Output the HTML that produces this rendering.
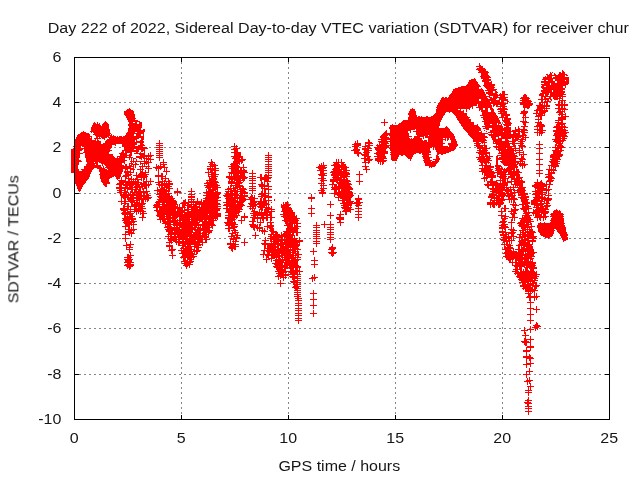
<!DOCTYPE html>
<html><head><meta charset="utf-8"><title>SDTVAR</title>
<style>
html,body{margin:0;padding:0;background:#fff;overflow:hidden}
svg{display:block}
text{font-family:"Liberation Sans",sans-serif;font-size:16px;fill:#000}
</style></head><body>
<svg width="640" height="480" viewBox="0 0 640 480">
<rect width="640" height="480" fill="#fff"/>
<g stroke="#868686" stroke-width="1" stroke-dasharray="2 3" shape-rendering="crispEdges">
<line x1="181.5" y1="57" x2="181.5" y2="419"/>
<line x1="288.5" y1="57" x2="288.5" y2="419"/>
<line x1="395.5" y1="57" x2="395.5" y2="419"/>
<line x1="502.5" y1="57" x2="502.5" y2="419"/>
<line x1="74" y1="102.5" x2="609" y2="102.5"/>
<line x1="74" y1="147.5" x2="609" y2="147.5"/>
<line x1="74" y1="193.5" x2="609" y2="193.5"/>
<line x1="74" y1="238.5" x2="609" y2="238.5"/>
<line x1="74" y1="283.5" x2="609" y2="283.5"/>
<line x1="74" y1="328.5" x2="609" y2="328.5"/>
<line x1="74" y1="374.5" x2="609" y2="374.5"/>
</g>
<path shape-rendering="crispEdges" fill="#000" d="M181 415h1v4h-1zM181 58h1v4h-1zM288 415h1v4h-1zM288 58h1v4h-1zM395 415h1v4h-1zM395 58h1v4h-1zM502 415h1v4h-1zM502 58h1v4h-1zM75 102h4v1h-4zM605 102h4v1h-4zM75 147h4v1h-4zM605 147h4v1h-4zM75 193h4v1h-4zM605 193h4v1h-4zM75 238h4v1h-4zM605 238h4v1h-4zM75 283h4v1h-4zM605 283h4v1h-4zM75 328h4v1h-4zM605 328h4v1h-4zM75 374h4v1h-4zM605 374h4v1h-4z"/>
<path shape-rendering="crispEdges" fill="#f00" d="M479 63h1v2h-1zM479 65h2v1h-2zM476 66h7v1h-7zM479 67h4v1h-4zM477 68h8v1h-8zM476 69h10v1h-10zM478 70h8v1h-8zM562 70h1v1h-1zM479 71h9v1h-9zM562 71h2v1h-2zM550 72h1v1h-1zM478 72h11v1h-11zM552 72h1v1h-1zM559 72h2v1h-2zM562 72h3v1h-3zM554 73h1v1h-1zM550 73h2v1h-2zM559 73h6v1h-6zM481 73h7v2h-7zM546 74h2v1h-2zM554 74h2v1h-2zM549 74h3v1h-3zM558 74h9v1h-9zM566 75h2v1h-2zM547 75h18v1h-18zM481 75h8v1h-8zM547 76h5v1h-5zM545 76h1v1h-1zM555 76h10v1h-10zM480 76h10v1h-10zM543 77h9v1h-9zM481 77h10v1h-10zM553 77h16v1h-16zM543 78h26v1h-26zM481 78h8v1h-8zM474 78h1v1h-1zM483 79h8v1h-8zM555 79h14v1h-14zM542 79h11v1h-11zM471 79h5v1h-5zM469 80h7v1h-7zM566 80h3v1h-3zM544 80h2v1h-2zM555 80h10v1h-10zM548 80h5v1h-5zM482 80h9v1h-9zM469 81h8v1h-8zM491 81h1v1h-1zM482 81h7v1h-7zM557 81h12v2h-12zM541 81h14v2h-14zM468 82h10v2h-10zM484 82h8v2h-8zM551 83h18v1h-18zM544 83h6v1h-6zM467 84h12v1h-12zM484 84h11v1h-11zM551 84h17v1h-17zM541 84h9v1h-9zM542 85h24v1h-24zM466 85h14v1h-14zM483 85h12v1h-12zM541 86h3v1h-3zM546 86h17v1h-17zM461 86h20v1h-20zM484 86h10v1h-10zM565 86h1v2h-1zM541 87h22v1h-22zM485 87h10v1h-10zM458 87h21v1h-21zM542 88h23v1h-23zM481 88h1v1h-1zM455 88h24v1h-24zM486 88h8v1h-8zM543 89h22v1h-22zM453 89h30v1h-30zM487 89h10v1h-10zM553 90h10v1h-10zM453 90h31v1h-31zM485 90h11v1h-11zM541 90h11v2h-11zM452 91h32v1h-32zM553 91h12v1h-12zM488 91h5v1h-5zM495 91h2v1h-2zM486 92h7v1h-7zM495 92h3v1h-3zM542 92h23v1h-23zM452 92h33v1h-33zM502 91h3v3h-3zM500 93h1v1h-1zM451 93h34v1h-34zM540 93h9v1h-9zM486 93h11v1h-11zM550 93h14v1h-14zM450 94h36v1h-36zM499 94h9v1h-9zM550 94h16v1h-16zM488 94h10v1h-10zM545 94h4v1h-4zM524 94h2v1h-2zM539 94h5v2h-5zM550 95h13v1h-13zM489 95h16v1h-16zM449 95h37v1h-37zM545 95h3v1h-3zM523 95h4v2h-4zM500 96h5v1h-5zM493 96h5v1h-5zM541 96h25v1h-25zM449 96h41v1h-41zM448 97h39v1h-39zM493 97h15v1h-15zM562 97h1v1h-1zM445 97h2v1h-2zM489 97h3v1h-3zM553 97h5v1h-5zM544 97h2v1h-2zM559 97h2v1h-2zM521 97h8v1h-8zM442 97h2v1h-2zM549 97h2v1h-2zM541 97h2v2h-2zM544 98h7v1h-7zM520 98h10v1h-10zM490 98h7v1h-7zM553 98h10v1h-10zM441 98h47v1h-47zM499 98h7v1h-7zM559 99h1v1h-1zM499 99h9v1h-9zM481 99h15v1h-15zM562 99h1v1h-1zM441 99h38v1h-38zM538 99h11v1h-11zM550 99h2v1h-2zM554 99h4v1h-4zM522 99h7v1h-7zM559 100h7v1h-7zM440 100h39v1h-39zM551 100h1v1h-1zM481 100h19v1h-19zM501 100h7v1h-7zM547 100h2v1h-2zM545 100h1v1h-1zM520 100h11v1h-11zM541 100h2v2h-2zM507 101h2v1h-2zM544 101h7v1h-7zM501 101h3v1h-3zM491 101h9v1h-9zM522 101h10v1h-10zM440 101h50v1h-50zM507 102h1v1h-1zM539 102h9v1h-9zM439 102h65v1h-65zM520 102h11v1h-11zM561 101h2v3h-2zM564 101h1v3h-1zM558 101h2v3h-2zM438 103h70v1h-70zM542 103h1v1h-1zM539 103h2v1h-2zM546 103h2v2h-2zM520 103h13v2h-13zM544 103h1v2h-1zM539 104h4v1h-4zM478 104h13v1h-13zM555 104h13v1h-13zM438 104h39v1h-39zM493 104h13v1h-13zM493 105h2v1h-2zM437 105h40v1h-40zM500 105h5v1h-5zM556 105h12v1h-12zM536 105h14v1h-14zM496 105h2v1h-2zM523 105h9v1h-9zM478 105h14v2h-14zM537 106h13v1h-13zM437 106h36v1h-36zM493 106h1v1h-1zM496 106h11v1h-11zM561 106h2v2h-2zM523 106h7v2h-7zM564 106h1v2h-1zM558 106h2v2h-2zM436 107h35v1h-35zM476 107h16v1h-16zM546 107h1v1h-1zM502 107h3v1h-3zM500 107h1v1h-1zM537 107h8v1h-8zM472 107h1v2h-1zM129 108h1v1h-1zM537 108h13v1h-13zM527 108h2v1h-2zM555 108h11v1h-11zM437 108h33v1h-33zM412 108h1v1h-1zM498 108h9v1h-9zM490 108h3v1h-3zM479 108h4v2h-4zM524 108h1v2h-1zM485 108h3v2h-3zM497 109h11v1h-11zM469 109h1v1h-1zM546 109h1v1h-1zM544 109h1v1h-1zM558 109h10v1h-10zM127 109h4v1h-4zM536 109h7v1h-7zM490 109h4v1h-4zM460 109h1v1h-1zM436 109h22v1h-22zM410 109h5v2h-5zM436 110h25v1h-25zM479 110h1v1h-1zM523 110h2v1h-2zM463 110h1v1h-1zM126 110h7v1h-7zM500 110h5v1h-5zM562 110h1v1h-1zM564 110h1v1h-1zM558 110h3v1h-3zM534 110h14v1h-14zM466 109h1v3h-1zM481 110h7v2h-7zM491 110h3v2h-3zM557 111h8v1h-8zM436 111h28v1h-28zM498 111h9v1h-9zM539 111h9v1h-9zM536 111h2v2h-2zM409 111h7v2h-7zM521 111h7v2h-7zM500 112h2v1h-2zM539 112h7v1h-7zM452 112h12v1h-12zM449 112h1v1h-1zM564 112h1v1h-1zM482 112h13v1h-13zM436 112h10v1h-10zM503 112h4v1h-4zM556 112h7v1h-7zM124 111h10v3h-10zM435 113h10v1h-10zM565 113h1v1h-1zM453 113h14v1h-14zM559 113h4v1h-4zM498 113h9v1h-9zM520 113h7v1h-7zM533 113h12v1h-12zM408 113h8v2h-8zM482 113h14v2h-14zM558 114h8v1h-8zM538 114h5v1h-5zM536 114h1v1h-1zM544 114h1v1h-1zM124 114h11v1h-11zM454 114h13v1h-13zM434 114h11v1h-11zM523 114h3v2h-3zM501 114h9v2h-9zM536 115h9v1h-9zM433 115h11v1h-11zM559 115h1v1h-1zM561 115h2v1h-2zM565 115h1v1h-1zM125 115h10v1h-10zM480 115h17v1h-17zM455 115h12v1h-12zM409 115h8v2h-8zM456 116h12v1h-12zM505 116h3v1h-3zM483 116h15v1h-15zM523 116h1v1h-1zM525 116h1v1h-1zM561 116h8v1h-8zM431 116h12v1h-12zM535 116h7v1h-7zM418 116h2v1h-2zM421 116h1v1h-1zM501 116h3v1h-3zM426 116h2v1h-2zM126 116h9v2h-9zM499 117h9v1h-9zM456 117h14v1h-14zM481 117h17v1h-17zM408 117h35v1h-35zM522 117h7v1h-7zM540 117h2v2h-2zM538 117h1v2h-1zM457 118h12v1h-12zM127 118h9v1h-9zM558 117h8v3h-8zM502 118h1v2h-1zM483 118h16v2h-16zM504 118h7v2h-7zM408 118h34v2h-34zM127 119h8v1h-8zM535 119h7v1h-7zM457 119h14v1h-14zM523 118h1v3h-1zM525 118h1v3h-1zM458 120h13v1h-13zM555 120h8v1h-8zM403 120h38v1h-38zM128 120h10v1h-10zM484 120h16v1h-16zM502 120h8v1h-8zM384 119h1v3h-1zM538 120h1v2h-1zM482 121h18v1h-18zM402 121h39v1h-39zM561 121h2v1h-2zM540 121h1v1h-1zM558 121h1v1h-1zM520 121h7v1h-7zM105 121h1v1h-1zM459 121h12v1h-12zM503 121h7v1h-7zM128 121h12v1h-12zM129 122h4v1h-4zM104 122h3v1h-3zM555 122h8v1h-8zM504 122h7v1h-7zM401 122h39v1h-39zM484 122h17v1h-17zM459 122h15v1h-15zM535 122h7v1h-7zM381 122h7v1h-7zM522 122h7v1h-7zM94 122h1v1h-1zM135 122h2v1h-2zM139 122h3v2h-3zM97 122h1v2h-1zM505 123h7v1h-7zM99 123h1v1h-1zM557 123h9v1h-9zM537 123h5v1h-5zM460 123h14v1h-14zM399 123h41v1h-41zM93 123h3v1h-3zM498 123h3v1h-3zM484 123h13v1h-13zM129 123h8v1h-8zM103 123h5v1h-5zM523 123h3v2h-3zM484 124h6v1h-6zM537 124h7v1h-7zM501 124h1v1h-1zM392 124h1v1h-1zM556 124h9v1h-9zM93 124h7v1h-7zM498 124h1v1h-1zM503 124h8v1h-8zM492 124h5v1h-5zM398 124h42v1h-42zM461 124h13v1h-13zM477 124h1v1h-1zM384 123h1v3h-1zM128 124h14v2h-14zM102 124h7v2h-7zM536 125h9v1h-9zM561 125h2v1h-2zM504 125h7v1h-7zM390 125h50v1h-50zM556 125h4v1h-4zM564 125h1v1h-1zM461 125h17v1h-17zM92 125h9v1h-9zM524 125h2v1h-2zM485 125h17v1h-17zM554 126h12v1h-12zM482 126h21v1h-21zM92 126h17v1h-17zM462 126h17v1h-17zM446 126h1v1h-1zM521 126h7v1h-7zM390 126h49v1h-49zM534 126h11v1h-11zM506 126h3v1h-3zM129 126h13v2h-13zM518 126h1v2h-1zM463 127h17v1h-17zM504 127h7v1h-7zM485 127h18v1h-18zM389 127h50v1h-50zM553 127h15v1h-15zM445 127h3v1h-3zM539 127h4v2h-4zM515 127h1v2h-1zM523 127h2v2h-2zM91 127h18v2h-18zM537 127h1v2h-1zM483 128h6v1h-6zM518 128h2v1h-2zM389 128h60v1h-60zM564 128h1v1h-1zM463 128h18v1h-18zM556 128h7v1h-7zM492 128h19v2h-19zM128 128h13v2h-13zM390 129h25v1h-25zM486 129h3v1h-3zM143 129h2v1h-2zM464 129h17v1h-17zM534 129h9v1h-9zM515 129h12v1h-12zM556 129h10v1h-10zM91 129h19v2h-19zM416 129h34v2h-34zM390 130h21v1h-21zM537 130h9v1h-9zM490 130h21v1h-21zM484 130h1v1h-1zM512 130h8v1h-8zM553 130h15v1h-15zM465 130h16v1h-16zM521 130h7v1h-7zM386 130h1v1h-1zM128 130h17v2h-17zM539 131h4v1h-4zM413 131h38v1h-38zM486 131h1v1h-1zM83 131h1v1h-1zM90 131h20v1h-20zM466 131h13v1h-13zM553 131h13v1h-13zM481 131h1v1h-1zM537 131h1v1h-1zM385 131h2v1h-2zM490 131h13v1h-13zM504 131h21v1h-21zM390 131h18v2h-18zM410 131h1v2h-1zM518 132h2v1h-2zM488 132h23v1h-23zM127 132h8v1h-8zM93 132h17v1h-17zM467 132h15v1h-15zM137 132h7v1h-7zM521 132h7v1h-7zM555 132h14v1h-14zM416 132h36v1h-36zM513 132h3v1h-3zM81 132h5v1h-5zM384 132h3v1h-3zM534 132h11v1h-11zM91 132h1v1h-1zM539 133h4v1h-4zM522 133h3v1h-3zM416 133h37v1h-37zM126 133h18v1h-18zM468 133h20v1h-20zM493 133h18v1h-18zM513 133h7v1h-7zM554 133h13v1h-13zM491 133h1v1h-1zM80 133h9v1h-9zM94 133h17v1h-17zM383 133h26v1h-26zM468 134h17v1h-17zM554 134h12v1h-12zM382 134h27v1h-27zM78 134h12v1h-12zM111 134h1v1h-1zM93 134h17v1h-17zM488 134h32v1h-32zM522 134h4v1h-4zM416 134h38v1h-38zM126 134h8v1h-8zM537 133h1v3h-1zM143 134h1v2h-1zM136 134h5v2h-5zM541 134h1v2h-1zM539 134h1v2h-1zM417 135h11v1h-11zM429 135h25v1h-25zM553 135h14v1h-14zM489 135h38v1h-38zM125 135h9v1h-9zM95 135h17v1h-17zM381 135h7v1h-7zM389 135h20v1h-20zM469 135h16v1h-16zM113 135h1v1h-1zM77 135h13v1h-13zM77 136h15v1h-15zM470 136h17v1h-17zM390 136h22v1h-22zM414 136h10v1h-10zM491 136h8v1h-8zM501 136h23v1h-23zM525 136h1v1h-1zM119 136h3v1h-3zM555 136h13v1h-13zM96 136h13v1h-13zM123 136h21v1h-21zM110 136h6v1h-6zM117 136h1v1h-1zM380 136h7v1h-7zM425 136h30v2h-30zM390 137h19v1h-19zM491 137h5v1h-5zM101 137h6v1h-6zM99 137h1v1h-1zM471 137h17v1h-17zM108 137h36v1h-36zM501 137h20v1h-20zM498 137h1v1h-1zM380 137h9v1h-9zM414 137h6v1h-6zM562 137h3v1h-3zM76 137h14v1h-14zM555 137h6v1h-6zM522 137h7v1h-7zM96 137h2v1h-2zM91 137h1v1h-1zM423 137h1v2h-1zM76 138h16v1h-16zM428 138h15v1h-15zM450 138h5v1h-5zM381 138h29v1h-29zM521 138h3v1h-3zM472 138h13v1h-13zM445 138h1v1h-1zM515 138h4v1h-4zM512 138h2v1h-2zM492 138h4v1h-4zM109 138h30v1h-30zM413 138h9v1h-9zM555 138h12v1h-12zM525 138h1v1h-1zM498 138h13v1h-13zM411 138h1v1h-1zM102 138h3v1h-3zM94 138h7v1h-7zM141 138h3v2h-3zM447 138h2v2h-2zM378 139h44v1h-44zM492 139h10v1h-10zM473 139h13v1h-13zM505 139h3v1h-3zM450 139h6v1h-6zM428 139h18v1h-18zM95 139h1v1h-1zM75 139h17v1h-17zM368 139h1v1h-1zM104 139h1v1h-1zM512 139h14v1h-14zM562 139h3v1h-3zM107 139h30v1h-30zM552 139h9v1h-9zM97 139h1v1h-1zM136 140h1v1h-1zM424 140h3v1h-3zM520 140h3v1h-3zM97 140h2v1h-2zM473 140h14v1h-14zM140 140h3v1h-3zM75 140h21v1h-21zM493 140h9v1h-9zM512 140h6v1h-6zM106 140h29v1h-29zM445 140h1v1h-1zM451 140h5v1h-5zM505 140h4v1h-4zM554 140h12v1h-12zM381 140h6v1h-6zM525 140h1v1h-1zM390 140h33v1h-33zM447 140h1v1h-1zM428 140h15v2h-15zM368 140h2v2h-2zM553 141h11v1h-11zM105 141h30v1h-30zM378 141h49v1h-49zM473 141h12v1h-12zM518 141h7v1h-7zM493 141h23v1h-23zM136 141h8v1h-8zM159 140h1v3h-1zM357 140h1v3h-1zM74 141h27v2h-27zM451 141h6v2h-6zM355 141h1v2h-1zM476 142h3v1h-3zM481 142h6v1h-6zM512 142h3v1h-3zM562 142h1v1h-1zM105 142h39v1h-39zM390 142h53v1h-53zM379 142h9v1h-9zM493 142h1v1h-1zM520 142h3v1h-3zM555 142h6v1h-6zM365 142h7v1h-7zM495 142h14v1h-14zM539 141h1v3h-1zM103 143h34v1h-34zM379 143h1v1h-1zM354 143h7v1h-7zM493 143h31v1h-31zM448 143h9v1h-9zM482 143h1v1h-1zM381 143h8v1h-8zM365 143h8v1h-8zM75 143h26v1h-26zM474 143h7v1h-7zM156 143h7v1h-7zM390 143h55v1h-55zM556 143h7v1h-7zM140 143h3v1h-3zM484 143h1v2h-1zM448 144h10v1h-10zM555 144h2v1h-2zM558 144h4v1h-4zM74 144h42v1h-42zM159 144h1v1h-1zM520 144h3v1h-3zM536 144h7v1h-7zM496 144h14v1h-14zM476 144h4v1h-4zM122 144h15v1h-15zM512 144h3v1h-3zM368 144h2v1h-2zM390 144h53v1h-53zM352 144h9v1h-9zM377 144h1v1h-1zM379 144h8v1h-8zM365 144h1v1h-1zM140 144h4v1h-4zM234 143h1v3h-1zM354 145h7v1h-7zM138 145h7v1h-7zM555 145h8v1h-8zM115 145h1v1h-1zM376 145h67v1h-67zM474 145h13v1h-13zM365 145h8v1h-8zM236 145h1v1h-1zM496 145h1v1h-1zM513 145h3v1h-3zM122 145h13v1h-13zM449 145h9v1h-9zM74 145h38v1h-38zM518 145h7v1h-7zM156 145h7v1h-7zM498 145h12v1h-12zM390 146h58v1h-58zM476 146h7v1h-7zM557 146h7v1h-7zM449 146h8v1h-8zM362 146h8v1h-8zM73 146h8v1h-8zM122 146h21v1h-21zM555 146h1v1h-1zM377 146h12v1h-12zM159 146h1v1h-1zM82 146h30v1h-30zM352 146h7v1h-7zM231 146h7v1h-7zM493 146h23v1h-23zM519 146h7v1h-7zM484 146h3v1h-3zM539 145h1v3h-1zM495 147h17v1h-17zM124 147h23v1h-23zM477 147h10v1h-10zM374 147h15v1h-15zM156 147h7v1h-7zM519 147h1v1h-1zM234 147h1v1h-1zM515 147h1v1h-1zM74 147h7v1h-7zM552 147h13v1h-13zM367 147h3v1h-3zM236 147h1v1h-1zM365 147h1v1h-1zM84 147h28v1h-28zM390 147h42v1h-42zM354 147h4v2h-4zM435 147h21v2h-21zM521 147h2v2h-2zM507 148h13v1h-13zM477 148h13v1h-13zM498 148h8v1h-8zM389 148h41v1h-41zM124 148h24v1h-24zM159 148h1v1h-1zM555 148h7v1h-7zM362 148h10v1h-10zM536 148h7v1h-7zM496 148h1v1h-1zM233 148h7v1h-7zM73 148h38v1h-38zM375 148h12v1h-12zM433 147h1v3h-1zM482 149h5v1h-5zM560 149h2v1h-2zM522 149h1v1h-1zM136 149h9v1h-9zM71 149h12v1h-12zM353 149h7v1h-7zM362 149h7v1h-7zM555 149h4v1h-4zM479 149h2v1h-2zM156 149h7v1h-7zM519 149h1v1h-1zM124 149h10v1h-10zM515 149h1v1h-1zM84 149h26v1h-26zM231 149h7v1h-7zM375 149h11v1h-11zM496 149h18v1h-18zM435 149h20v1h-20zM390 149h40v2h-40zM376 150h10v1h-10zM498 150h25v1h-25zM552 150h12v1h-12zM436 150h18v1h-18zM351 150h9v1h-9zM141 150h4v1h-4zM159 150h1v1h-1zM122 150h17v1h-17zM84 150h28v1h-28zM71 150h11v1h-11zM364 150h8v1h-8zM477 150h11v1h-11zM234 150h4v2h-4zM499 151h1v1h-1zM354 151h5v1h-5zM553 151h9v1h-9zM377 151h11v1h-11zM523 151h1v1h-1zM364 151h5v1h-5zM156 151h7v1h-7zM519 151h1v1h-1zM125 151h14v1h-14zM479 151h8v1h-8zM515 151h1v1h-1zM84 151h26v1h-26zM122 151h2v1h-2zM501 151h13v1h-13zM141 151h2v1h-2zM436 151h15v1h-15zM391 151h40v1h-40zM539 149h1v4h-1zM71 151h9v2h-9zM144 151h1v2h-1zM159 152h1v1h-1zM121 152h3v1h-3zM390 152h41v1h-41zM83 152h26v1h-26zM354 152h7v1h-7zM499 152h15v1h-15zM516 152h8v1h-8zM363 152h7v1h-7zM136 152h2v1h-2zM231 152h10v1h-10zM125 152h7v1h-7zM376 152h12v1h-12zM140 152h1v1h-1zM476 152h14v1h-14zM437 152h12v1h-12zM553 152h8v2h-8zM119 153h8v1h-8zM536 153h7v1h-7zM354 153h8v1h-8zM523 153h1v1h-1zM71 153h12v1h-12zM419 153h2v1h-2zM437 153h9v1h-9zM85 153h24v1h-24zM364 153h5v1h-5zM156 153h7v1h-7zM519 153h1v1h-1zM422 153h7v1h-7zM134 153h11v1h-11zM130 153h2v1h-2zM374 153h14v1h-14zM391 153h25v1h-25zM498 153h19v1h-19zM478 153h12v1h-12zM150 152h1v3h-1zM268 152h1v3h-1zM148 153h1v2h-1zM139 154h6v1h-6zM159 154h1v1h-1zM441 154h2v1h-2zM519 154h8v1h-8zM437 154h2v1h-2zM501 154h14v1h-14zM479 154h8v1h-8zM120 154h7v1h-7zM361 154h8v1h-8zM376 154h9v1h-9zM422 154h9v1h-9zM129 154h3v1h-3zM390 154h24v1h-24zM551 154h12v1h-12zM234 153h7v3h-7zM489 154h1v2h-1zM85 154h28v2h-28zM357 154h2v2h-2zM120 155h12v1h-12zM436 155h2v1h-2zM265 155h7v1h-7zM377 155h8v1h-8zM550 155h13v1h-13zM523 155h1v1h-1zM362 155h7v1h-7zM405 155h8v1h-8zM156 155h7v1h-7zM519 155h1v1h-1zM481 155h3v1h-3zM401 155h2v1h-2zM497 155h20v1h-20zM485 155h3v1h-3zM140 155h14v1h-14zM479 155h1v1h-1zM521 155h1v1h-1zM423 155h6v1h-6zM391 155h8v2h-8zM231 156h12v1h-12zM136 156h16v1h-16zM159 156h1v1h-1zM129 156h2v1h-2zM374 156h12v1h-12zM501 156h17v1h-17zM358 156h1v1h-1zM422 156h7v1h-7zM479 156h14v1h-14zM550 156h12v1h-12zM268 156h1v1h-1zM364 156h7v1h-7zM85 156h29v1h-29zM406 156h7v1h-7zM117 156h10v1h-10zM71 154h9v4h-9zM496 156h2v2h-2zM521 156h3v2h-3zM436 156h3v2h-3zM119 157h14v1h-14zM150 157h1v1h-1zM265 157h7v1h-7zM233 157h10v1h-10zM486 157h4v1h-4zM550 157h10v1h-10zM136 157h9v1h-9zM146 157h1v1h-1zM364 157h2v1h-2zM85 157h30v1h-30zM156 157h7v1h-7zM476 157h9v1h-9zM148 157h1v1h-1zM367 157h3v1h-3zM407 157h5v1h-5zM377 157h9v1h-9zM117 157h1v1h-1zM499 157h17v1h-17zM423 157h9v1h-9zM539 154h1v5h-1zM391 157h7v2h-7zM139 158h3v1h-3zM143 158h8v1h-8zM496 158h29v1h-29zM408 158h4v1h-4zM361 158h9v1h-9zM552 158h8v1h-8zM436 158h4v1h-4zM375 158h12v1h-12zM423 158h7v1h-7zM478 158h13v1h-13zM241 158h2v1h-2zM232 158h8v1h-8zM268 158h1v1h-1zM133 158h3v1h-3zM129 158h1v2h-1zM86 158h39v2h-39zM71 158h8v2h-8zM146 159h8v1h-8zM364 159h9v1h-9zM141 159h1v1h-1zM424 159h6v1h-6zM265 159h7v1h-7zM536 159h7v1h-7zM496 159h20v1h-20zM477 159h13v1h-13zM519 159h7v1h-7zM375 159h9v1h-9zM433 159h7v1h-7zM234 159h12v1h-12zM550 159h11v1h-11zM391 159h6v1h-6zM159 158h1v3h-1zM131 158h1v3h-1zM136 159h1v2h-1zM211 159h1v2h-1zM133 159h1v2h-1zM410 159h1v2h-1zM144 159h1v2h-1zM86 160h41v1h-41zM71 160h10v1h-10zM520 160h3v1h-3zM435 160h4v1h-4zM234 160h11v1h-11zM146 160h1v1h-1zM364 160h8v1h-8zM502 160h14v1h-14zM375 160h12v1h-12zM392 160h5v1h-5zM148 160h1v1h-1zM551 160h7v1h-7zM268 160h1v1h-1zM479 160h13v1h-13zM423 160h9v1h-9zM163 159h1v3h-1zM338 159h1v3h-1zM336 159h1v3h-1zM341 159h1v3h-1zM150 160h1v2h-1zM211 161h2v1h-2zM265 161h7v1h-7zM233 161h10v1h-10zM478 161h11v1h-11zM368 161h2v1h-2zM364 161h2v1h-2zM432 161h7v1h-7zM500 161h25v1h-25zM86 161h39v1h-39zM71 161h11v1h-11zM549 161h11v1h-11zM424 161h7v1h-7zM377 161h9v1h-9zM130 161h19v1h-19zM362 162h8v1h-8zM522 162h1v1h-1zM480 162h10v1h-10zM233 162h7v1h-7zM550 162h8v1h-8zM160 162h7v1h-7zM133 162h1v1h-1zM333 162h12v1h-12zM95 162h3v1h-3zM87 162h7v1h-7zM144 162h8v1h-8zM424 162h14v1h-14zM524 162h1v1h-1zM241 162h2v1h-2zM520 162h1v1h-1zM135 162h1v1h-1zM99 162h26v1h-26zM208 162h7v1h-7zM131 162h1v1h-1zM140 162h1v1h-1zM501 162h18v1h-18zM539 160h1v4h-1zM382 162h2v2h-2zM268 162h1v2h-1zM378 162h1v2h-1zM163 163h1v1h-1zM231 163h9v1h-9zM341 163h3v1h-3zM87 163h11v1h-11zM484 163h3v1h-3zM140 163h9v1h-9zM160 163h1v1h-1zM425 163h12v1h-12zM124 163h1v1h-1zM135 163h2v1h-2zM129 163h4v1h-4zM210 163h3v1h-3zM368 163h1v1h-1zM488 163h1v1h-1zM517 163h8v1h-8zM101 163h21v1h-21zM214 163h1v1h-1zM334 163h5v1h-5zM551 163h9v1h-9zM241 163h1v1h-1zM503 163h13v1h-13zM496 160h2v5h-2zM380 162h1v3h-1zM71 162h8v3h-8zM323 162h1v3h-1zM490 163h1v2h-1zM321 163h1v2h-1zM481 163h2v2h-2zM209 164h7v1h-7zM333 164h7v1h-7zM536 164h7v1h-7zM265 164h7v1h-7zM230 164h8v1h-8zM160 164h7v1h-7zM146 164h1v1h-1zM503 164h15v1h-15zM341 164h5v1h-5zM239 164h1v1h-1zM86 164h9v1h-9zM129 164h1v1h-1zM104 164h18v1h-18zM382 164h1v1h-1zM131 164h8v1h-8zM551 164h7v1h-7zM519 164h9v1h-9zM485 164h2v1h-2zM140 164h1v1h-1zM319 164h1v1h-1zM96 164h2v1h-2zM365 163h1v3h-1zM156 164h1v2h-1zM125 164h2v2h-2zM142 164h1v2h-1zM102 164h1v2h-1zM148 164h1v2h-1zM425 164h11v2h-11zM144 164h1v2h-1zM479 165h12v1h-12zM160 165h1v1h-1zM231 165h8v1h-8zM504 165h13v1h-13zM105 165h19v1h-19zM133 165h1v1h-1zM548 165h11v1h-11zM519 165h7v1h-7zM86 165h15v1h-15zM495 165h6v1h-6zM319 165h8v1h-8zM268 165h1v1h-1zM163 165h2v1h-2zM129 165h3v1h-3zM210 165h8v1h-8zM331 165h15v1h-15zM158 165h1v1h-1zM243 164h1v3h-1zM508 166h10v1h-10zM265 166h7v1h-7zM429 166h6v1h-6zM551 166h8v1h-8zM495 166h7v1h-7zM334 166h13v1h-13zM362 166h7v1h-7zM139 166h11v1h-11zM228 166h12v1h-12zM84 166h17v1h-17zM106 166h28v1h-28zM520 166h1v1h-1zM156 166h9v1h-9zM318 166h7v1h-7zM207 166h9v1h-9zM135 165h1v3h-1zM482 166h1v2h-1zM524 166h1v2h-1zM103 166h1v2h-1zM484 166h10v2h-10zM105 167h26v1h-26zM553 167h3v1h-3zM210 167h1v1h-1zM84 167h18v1h-18zM153 167h15v1h-15zM431 167h1v1h-1zM146 167h1v1h-1zM133 167h1v1h-1zM496 167h4v1h-4zM501 167h1v1h-1zM212 167h1v1h-1zM507 167h11v1h-11zM148 167h1v1h-1zM214 167h2v1h-2zM334 167h15v1h-15zM268 167h1v1h-1zM231 167h16v1h-16zM429 167h1v1h-1zM316 167h11v1h-11zM71 165h7v4h-7zM549 166h1v3h-1zM522 166h1v3h-1zM142 167h1v2h-1zM551 167h1v2h-1zM365 167h2v2h-2zM140 167h1v2h-1zM145 168h7v1h-7zM506 168h9v1h-9zM341 168h6v1h-6zM333 168h7v1h-7zM479 168h12v1h-12zM265 168h7v1h-7zM107 168h27v1h-27zM97 168h8v1h-8zM155 168h7v1h-7zM504 168h1v1h-1zM555 168h1v1h-1zM243 168h1v1h-1zM318 168h8v1h-8zM229 168h10v1h-10zM84 168h10v1h-10zM553 168h1v1h-1zM516 168h1v1h-1zM207 168h12v1h-12zM495 168h8v1h-8zM539 165h1v5h-1zM240 168h2v2h-2zM243 169h2v1h-2zM125 169h3v1h-3zM332 169h15v1h-15zM160 169h1v1h-1zM231 169h8v1h-8zM546 169h10v1h-10zM137 169h7v1h-7zM81 169h12v1h-12zM108 169h15v1h-15zM481 169h12v1h-12zM130 169h5v1h-5zM496 169h19v1h-19zM363 169h7v1h-7zM319 169h5v1h-5zM268 169h1v1h-1zM99 169h8v1h-8zM207 169h9v1h-9zM164 168h1v3h-1zM166 168h1v3h-1zM516 169h3v2h-3zM156 169h1v2h-1zM71 169h8v2h-8zM548 170h9v1h-9zM127 170h1v1h-1zM536 170h7v1h-7zM265 170h7v1h-7zM495 170h7v1h-7zM343 170h7v1h-7zM503 170h9v1h-9zM82 170h10v1h-10zM142 170h1v1h-1zM333 170h9v1h-9zM210 170h9v1h-9zM317 170h10v1h-10zM125 170h1v1h-1zM130 170h1v1h-1zM481 170h11v1h-11zM140 170h1v1h-1zM513 170h2v1h-2zM148 169h1v3h-1zM145 170h1v2h-1zM133 170h1v2h-1zM99 170h24v2h-24zM231 170h16v2h-16zM208 170h1v2h-1zM163 171h7v1h-7zM479 171h15v1h-15zM140 171h3v1h-3zM548 171h2v1h-2zM71 171h21v1h-21zM124 171h7v1h-7zM210 171h3v1h-3zM551 171h1v1h-1zM331 171h16v1h-16zM497 171h23v1h-23zM214 171h2v1h-2zM268 171h1v1h-1zM553 171h1v1h-1zM366 170h1v3h-1zM252 170h1v3h-1zM320 171h4v2h-4zM539 171h1v2h-1zM265 172h7v1h-7zM140 172h9v1h-9zM124 172h10v1h-10zM482 172h25v1h-25zM330 172h19v1h-19zM71 172h20v1h-20zM508 172h14v1h-14zM228 172h20v1h-20zM205 172h11v1h-11zM359 171h1v3h-1zM100 172h22v2h-22zM548 172h7v2h-7zM211 173h5v1h-5zM332 173h18v1h-18zM536 173h7v1h-7zM320 173h7v1h-7zM497 173h9v1h-9zM74 173h17v1h-17zM229 173h16v1h-16zM484 173h11v1h-11zM249 173h7v1h-7zM139 173h7v1h-7zM125 173h4v1h-4zM508 173h11v1h-11zM208 173h1v1h-1zM130 173h1v1h-1zM158 169h1v6h-1zM136 172h1v3h-1zM166 172h1v3h-1zM161 173h2v2h-2zM482 173h1v2h-1zM268 173h1v2h-1zM545 174h7v1h-7zM99 174h22v1h-22zM138 174h11v1h-11zM240 174h5v1h-5zM233 174h6v1h-6zM208 174h11v1h-11zM497 174h23v1h-23zM331 174h19v1h-19zM125 174h7v1h-7zM318 174h7v1h-7zM265 174h2v1h-2zM356 174h7v1h-7zM484 174h10v1h-10zM252 174h1v2h-1zM229 174h1v2h-1zM74 174h16v2h-16zM231 174h1v2h-1zM211 175h5v1h-5zM133 175h14v1h-14zM484 175h12v1h-12zM331 175h17v1h-17zM165 175h1v1h-1zM264 175h8v1h-8zM233 175h12v1h-12zM510 175h10v1h-10zM319 175h8v1h-8zM100 175h21v1h-21zM548 175h4v1h-4zM500 175h6v1h-6zM497 175h1v1h-1zM208 175h1v1h-1zM123 175h8v1h-8zM155 175h8v1h-8zM260 174h2v3h-2zM539 174h1v3h-1zM75 176h15v1h-15zM486 176h10v1h-10zM136 176h12v1h-12zM546 176h7v1h-7zM333 176h6v1h-6zM226 176h20v1h-20zM264 176h5v1h-5zM340 176h10v1h-10zM249 176h7v1h-7zM497 176h10v1h-10zM208 176h10v1h-10zM484 176h1v1h-1zM122 176h7v1h-7zM115 176h6v1h-6zM155 176h11v1h-11zM516 176h4v1h-4zM100 176h14v1h-14zM508 176h7v2h-7zM321 176h3v2h-3zM131 176h1v2h-1zM209 177h1v1h-1zM211 177h5v1h-5zM332 177h15v1h-15zM161 177h2v1h-2zM252 177h1v1h-1zM499 177h7v1h-7zM128 177h1v1h-1zM165 177h1v1h-1zM125 177h2v1h-2zM545 177h9v1h-9zM75 177h14v1h-14zM100 177h12v1h-12zM136 177h11v1h-11zM257 177h15v1h-15zM483 177h13v1h-13zM226 177h22v1h-22zM516 177h7v1h-7zM116 177h4v2h-4zM491 178h2v1h-2zM141 178h1v1h-1zM135 178h3v1h-3zM228 178h19v1h-19zM481 178h7v1h-7zM161 178h8v1h-8zM100 178h10v1h-10zM133 178h1v1h-1zM318 178h8v1h-8zM333 178h9v1h-9zM511 178h11v1h-11zM346 178h2v1h-2zM249 178h7v1h-7zM500 178h9v1h-9zM548 178h7v1h-7zM125 178h7v1h-7zM260 178h11v1h-11zM343 178h2v1h-2zM74 178h15v1h-15zM121 177h1v3h-1zM143 178h2v2h-2zM209 178h8v2h-8zM128 179h14v1h-14zM511 179h9v1h-9zM161 179h2v1h-2zM252 179h1v1h-1zM500 179h1v1h-1zM165 179h1v1h-1zM260 179h9v1h-9zM242 179h3v1h-3zM321 179h3v1h-3zM548 179h4v1h-4zM125 179h1v1h-1zM330 179h18v1h-18zM502 179h4v1h-4zM229 179h12v1h-12zM117 179h1v1h-1zM75 179h13v1h-13zM521 179h1v1h-1zM168 179h1v1h-1zM359 175h1v6h-1zM158 177h1v4h-1zM150 178h1v3h-1zM146 178h1v3h-1zM486 179h1v2h-1zM490 179h3v2h-3zM507 179h1v2h-1zM128 180h2v1h-2zM137 180h2v1h-2zM330 180h20v1h-20zM141 180h1v1h-1zM320 180h7v1h-7zM541 180h1v1h-1zM234 180h11v1h-11zM75 180h12v1h-12zM206 180h10v1h-10zM231 180h2v1h-2zM229 180h1v1h-1zM133 180h1v1h-1zM264 180h5v1h-5zM143 180h1v1h-1zM496 180h10v1h-10zM168 180h2v1h-2zM547 180h7v1h-7zM249 180h7v1h-7zM162 180h1v1h-1zM164 180h2v1h-2zM260 180h2v1h-2zM511 180h1v1h-1zM118 180h8v1h-8zM135 180h1v1h-1zM514 180h9v1h-9zM131 180h1v1h-1zM101 179h8v3h-8zM537 179h1v3h-1zM484 179h1v3h-1zM330 181h8v1h-8zM119 181h20v1h-20zM228 181h7v1h-7zM143 181h11v1h-11zM261 181h1v1h-1zM507 181h18v1h-18zM209 181h9v1h-9zM243 181h1v1h-1zM546 181h7v1h-7zM207 181h1v1h-1zM236 181h5v1h-5zM339 181h12v1h-12zM487 181h10v1h-10zM158 181h14v1h-14zM321 181h3v1h-3zM540 181h2v1h-2zM502 181h4v1h-4zM264 181h7v1h-7zM356 181h7v1h-7zM252 181h1v2h-1zM500 181h1v2h-1zM75 181h11v2h-11zM164 182h1v1h-1zM119 182h23v1h-23zM534 182h9v1h-9zM514 182h11v1h-11zM487 182h11v1h-11zM102 182h8v1h-8zM321 182h1v1h-1zM206 182h13v1h-13zM143 182h4v1h-4zM228 182h15v1h-15zM166 182h1v1h-1zM168 182h2v1h-2zM267 182h1v1h-1zM323 182h1v1h-1zM336 182h13v1h-13zM502 182h10v1h-10zM155 182h8v1h-8zM150 182h1v2h-1zM546 182h1v2h-1zM332 182h2v2h-2zM148 182h1v2h-1zM549 182h2v2h-2zM264 182h1v2h-1zM261 182h2v2h-2zM535 183h10v1h-10zM487 183h2v1h-2zM125 183h14v1h-14zM337 183h14v1h-14zM158 183h2v1h-2zM490 183h18v1h-18zM249 183h7v1h-7zM511 183h1v1h-1zM228 183h14v1h-14zM318 183h7v1h-7zM103 183h7v1h-7zM161 183h12v1h-12zM514 183h9v1h-9zM140 183h7v1h-7zM75 183h10v1h-10zM117 183h7v1h-7zM204 183h13v1h-13zM359 182h1v3h-1zM267 183h2v2h-2zM116 184h36v1h-36zM103 184h4v1h-4zM321 184h1v1h-1zM484 184h24v1h-24zM76 184h8v1h-8zM534 184h19v1h-19zM329 184h8v1h-8zM156 184h17v1h-17zM231 184h1v1h-1zM338 184h14v1h-14zM511 184h12v1h-12zM207 184h11v1h-11zM258 184h7v1h-7zM323 184h1v1h-1zM235 184h5v1h-5zM252 184h1v2h-1zM204 185h16v1h-16zM549 185h1v1h-1zM320 185h7v1h-7zM515 185h8v1h-8zM158 185h12v1h-12zM141 185h9v1h-9zM135 185h5v1h-5zM104 185h3v1h-3zM338 185h12v1h-12zM334 185h3v1h-3zM230 185h13v1h-13zM123 185h11v1h-11zM259 185h10v1h-10zM76 185h7v1h-7zM485 185h23v1h-23zM513 185h1v2h-1zM119 185h3v2h-3zM332 185h1v2h-1zM532 185h15v2h-15zM334 186h17v1h-17zM105 186h2v1h-2zM517 186h1v1h-1zM125 186h3v1h-3zM233 186h1v1h-1zM161 186h2v1h-2zM230 186h2v1h-2zM495 186h10v1h-10zM519 186h4v1h-4zM77 186h6v1h-6zM129 186h4v1h-4zM515 186h1v1h-1zM510 186h1v1h-1zM206 186h12v1h-12zM506 186h1v1h-1zM249 186h7v1h-7zM164 186h8v1h-8zM134 186h13v1h-13zM235 186h9v1h-9zM259 186h13v1h-13zM228 186h1v2h-1zM159 186h1v2h-1zM487 186h2v2h-2zM321 186h1v2h-1zM492 186h2v2h-2zM548 186h2v2h-2zM148 186h1v2h-1zM323 186h1v2h-1zM144 187h3v1h-3zM116 187h27v1h-27zM252 187h1v1h-1zM205 187h16v1h-16zM546 187h1v1h-1zM495 187h31v1h-31zM230 187h1v1h-1zM268 187h1v1h-1zM264 187h1v1h-1zM534 187h10v1h-10zM242 187h2v1h-2zM233 187h8v1h-8zM161 187h9v1h-9zM261 187h2v1h-2zM331 187h21v1h-21zM157 187h1v2h-1zM77 187h5v2h-5zM160 188h5v1h-5zM135 188h3v1h-3zM142 188h5v1h-5zM320 188h7v1h-7zM332 188h21v1h-21zM513 188h1v1h-1zM139 188h2v1h-2zM518 188h7v1h-7zM535 188h12v1h-12zM239 188h7v1h-7zM207 188h4v1h-4zM116 188h17v1h-17zM488 188h17v1h-17zM510 188h1v1h-1zM166 188h7v1h-7zM227 188h11v1h-11zM249 188h7v1h-7zM548 188h1v1h-1zM506 188h3v1h-3zM212 188h6v1h-6zM261 188h8v1h-8zM124 189h2v1h-2zM535 189h1v1h-1zM142 189h2v1h-2zM237 189h10v1h-10zM341 189h12v1h-12zM252 189h1v1h-1zM490 189h25v1h-25zM225 189h7v1h-7zM264 189h8v1h-8zM233 189h3v1h-3zM119 189h3v1h-3zM157 189h10v1h-10zM321 189h3v1h-3zM168 189h2v1h-2zM517 189h8v1h-8zM208 189h10v1h-10zM127 189h14v1h-14zM537 189h15v1h-15zM331 189h9v1h-9zM191 188h1v3h-1zM177 188h1v3h-1zM206 189h1v2h-1zM146 189h1v2h-1zM262 189h1v2h-1zM78 189h3v2h-3zM228 190h1v1h-1zM134 190h3v1h-3zM154 190h16v1h-16zM341 190h9v1h-9zM127 190h1v1h-1zM230 190h8v1h-8zM117 190h9v1h-9zM513 190h13v1h-13zM240 190h5v1h-5zM492 190h20v1h-20zM535 190h15v1h-15zM208 190h8v1h-8zM143 190h1v1h-1zM131 190h2v1h-2zM249 190h7v1h-7zM217 190h1v1h-1zM318 190h7v1h-7zM138 190h3v1h-3zM338 190h2v1h-2zM334 190h3v2h-3zM532 191h11v1h-11zM130 191h3v1h-3zM490 191h13v1h-13zM546 191h1v1h-1zM188 191h7v1h-7zM124 191h4v1h-4zM514 191h1v1h-1zM505 191h7v1h-7zM215 191h3v1h-3zM79 191h1v1h-1zM119 191h3v1h-3zM321 191h3v1h-3zM157 191h13v1h-13zM517 191h8v1h-8zM134 191h16v1h-16zM338 191h14v1h-14zM225 191h21v1h-21zM206 191h8v1h-8zM264 190h2v3h-2zM268 190h1v3h-1zM174 191h7v2h-7zM261 191h2v2h-2zM510 192h15v1h-15zM226 192h3v1h-3zM203 192h18v1h-18zM130 192h18v1h-18zM117 192h12v1h-12zM240 192h8v1h-8zM334 192h19v1h-19zM535 192h12v1h-12zM234 192h4v1h-4zM157 192h1v1h-1zM492 192h13v1h-13zM159 192h8v1h-8zM506 192h3v1h-3zM230 192h3v1h-3zM168 192h1v1h-1zM252 191h1v3h-1zM191 192h1v2h-1zM319 192h7v2h-7zM146 193h2v1h-2zM157 193h15v1h-15zM226 193h12v1h-12zM123 193h4v1h-4zM120 193h2v1h-2zM128 193h1v1h-1zM546 193h1v1h-1zM136 193h6v1h-6zM518 193h1v1h-1zM520 193h8v1h-8zM496 193h19v1h-19zM132 193h3v1h-3zM533 193h10v1h-10zM331 193h22v1h-22zM206 193h15v1h-15zM491 193h3v1h-3zM239 193h9v1h-9zM130 193h1v1h-1zM259 193h10v1h-10zM548 191h1v4h-1zM143 193h2v2h-2zM240 194h3v1h-3zM532 194h14v1h-14zM156 194h14v1h-14zM251 194h1v1h-1zM225 194h14v1h-14zM507 194h6v1h-6zM334 194h19v1h-19zM258 194h8v1h-8zM188 194h7v1h-7zM518 194h10v1h-10zM514 194h1v1h-1zM498 194h8v1h-8zM244 194h1v1h-1zM146 194h3v1h-3zM489 194h8v1h-8zM268 194h1v1h-1zM120 194h22v1h-22zM206 194h14v1h-14zM177 193h1v3h-1zM518 195h8v1h-8zM191 195h1v1h-1zM223 195h25v1h-25zM545 195h7v1h-7zM489 195h27v1h-27zM337 195h17v1h-17zM171 195h1v1h-1zM535 195h5v1h-5zM203 195h16v1h-16zM120 195h31v1h-31zM159 195h11v1h-11zM251 195h2v1h-2zM541 195h2v1h-2zM261 195h8v1h-8zM311 194h1v3h-1zM322 194h1v3h-1zM334 195h1v2h-1zM254 195h1v2h-1zM506 196h9v1h-9zM136 196h13v1h-13zM206 196h13v1h-13zM250 196h3v1h-3zM258 196h14v1h-14zM121 196h8v1h-8zM234 196h4v1h-4zM338 196h15v1h-15zM157 196h16v1h-16zM224 196h9v1h-9zM521 196h8v1h-8zM548 196h1v1h-1zM535 196h8v1h-8zM488 196h7v1h-7zM239 196h9v1h-9zM496 196h9v1h-9zM130 196h4v1h-4zM544 196h1v1h-1zM358 195h1v3h-1zM188 196h7v2h-7zM335 197h17v1h-17zM518 197h11v1h-11zM488 197h12v1h-12zM121 197h21v1h-21zM205 197h16v1h-16zM158 197h15v1h-15zM547 197h2v1h-2zM264 197h8v1h-8zM248 197h7v1h-7zM533 197h13v1h-13zM508 197h2v1h-2zM511 197h4v1h-4zM226 197h19v1h-19zM143 197h9v1h-9zM261 197h2v1h-2zM501 197h3v1h-3zM308 197h7v2h-7zM249 198h9v1h-9zM191 198h1v1h-1zM534 198h18v1h-18zM159 198h16v1h-16zM340 198h11v1h-11zM508 198h9v1h-9zM491 198h13v1h-13zM123 198h3v1h-3zM127 198h24v1h-24zM203 198h16v1h-16zM520 198h7v1h-7zM225 198h21v1h-21zM263 198h3v2h-3zM338 198h1v2h-1zM268 198h1v2h-1zM355 198h7v2h-7zM494 199h1v1h-1zM136 199h13v1h-13zM237 199h1v1h-1zM127 199h7v1h-7zM205 199h13v1h-13zM342 199h9v1h-9zM157 199h17v1h-17zM188 199h7v1h-7zM239 199h16v1h-16zM533 199h7v1h-7zM496 199h22v1h-22zM521 199h8v1h-8zM185 199h1v1h-1zM226 199h10v1h-10zM490 199h2v1h-2zM541 199h11v1h-11zM197 198h1v3h-1zM260 198h2v3h-2zM121 198h1v3h-1zM124 199h2v2h-2zM274 199h1v2h-1zM201 199h1v2h-1zM544 200h7v1h-7zM147 200h2v1h-2zM191 200h1v1h-1zM226 200h12v1h-12zM203 200h18v1h-18zM263 200h9v1h-9zM338 200h13v1h-13zM193 200h1v1h-1zM158 200h18v1h-18zM188 200h1v1h-1zM239 200h7v1h-7zM490 200h15v1h-15zM531 200h12v1h-12zM250 200h5v1h-5zM128 200h12v1h-12zM311 199h1v3h-1zM145 200h1v2h-1zM183 200h3v2h-3zM356 200h4v2h-4zM513 200h2v2h-2zM521 200h7v2h-7zM492 201h3v1h-3zM203 201h15v1h-15zM188 201h14v1h-14zM490 201h1v1h-1zM342 201h3v1h-3zM147 201h1v1h-1zM496 201h7v1h-7zM346 201h8v1h-8zM136 201h2v1h-2zM139 201h1v1h-1zM250 201h17v1h-17zM226 201h19v1h-19zM156 201h21v1h-21zM118 201h17v1h-17zM531 201h14v1h-14zM287 201h1v1h-1zM509 200h1v3h-1zM141 200h3v3h-3zM511 200h1v3h-1zM546 201h3v2h-3zM268 201h1v2h-1zM250 202h7v1h-7zM124 202h2v1h-2zM258 202h9v1h-9zM531 202h7v1h-7zM155 202h22v1h-22zM223 202h21v1h-21zM271 202h1v1h-1zM182 202h36v1h-36zM342 202h11v1h-11zM513 202h3v1h-3zM540 202h2v1h-2zM121 202h1v1h-1zM130 202h10v1h-10zM354 202h9v1h-9zM544 202h1v1h-1zM330 201h1v3h-1zM283 202h1v2h-1zM487 202h17v2h-17zM285 202h3v2h-3zM522 202h8v2h-8zM340 203h21v1h-21zM162 203h3v1h-3zM191 203h1v1h-1zM180 203h9v1h-9zM134 203h12v1h-12zM248 203h8v1h-8zM513 203h1v1h-1zM531 203h19v1h-19zM193 203h1v1h-1zM166 203h11v1h-11zM156 203h4v1h-4zM237 203h6v1h-6zM515 203h1v1h-1zM121 203h8v1h-8zM131 203h2v1h-2zM257 203h12v1h-12zM226 203h10v1h-10zM195 203h25v1h-25zM546 204h2v1h-2zM224 204h20v1h-20zM124 204h2v1h-2zM249 204h21v1h-21zM182 204h4v1h-4zM531 204h13v1h-13zM187 204h34v1h-34zM154 204h24v1h-24zM510 204h7v1h-7zM131 204h14v1h-14zM343 204h9v1h-9zM281 204h1v1h-1zM327 204h7v1h-7zM487 204h16v1h-16zM283 204h8v1h-8zM519 204h9v1h-9zM121 204h1v1h-1zM356 204h4v1h-4zM127 204h2v2h-2zM544 205h7v1h-7zM250 205h7v1h-7zM281 205h9v1h-9zM223 205h22v1h-22zM201 205h17v1h-17zM182 205h10v1h-10zM534 205h9v1h-9zM131 205h12v1h-12zM193 205h4v1h-4zM162 205h14v1h-14zM496 205h1v1h-1zM341 205h11v1h-11zM512 205h7v1h-7zM259 205h8v1h-8zM199 205h1v1h-1zM522 205h2v1h-2zM153 205h7v1h-7zM355 205h7v1h-7zM123 205h2v1h-2zM525 205h4v1h-4zM177 205h1v1h-1zM179 204h1v3h-1zM492 205h3v2h-3zM498 205h3v2h-3zM268 205h1v2h-1zM257 206h8v1h-8zM201 206h20v1h-20zM540 206h10v1h-10zM356 206h3v1h-3zM187 206h13v1h-13zM513 206h1v1h-1zM123 206h22v1h-22zM266 206h1v1h-1zM281 206h8v1h-8zM182 206h3v1h-3zM226 206h17v1h-17zM154 206h24v1h-24zM536 206h3v1h-3zM515 206h1v1h-1zM522 206h9v1h-9zM343 206h6v1h-6zM247 206h9v1h-9zM534 206h1v1h-1zM350 206h1v1h-1zM311 205h1v3h-1zM490 205h1v3h-1zM330 205h1v3h-1zM504 205h2v3h-2zM271 206h1v2h-1zM258 207h12v1h-12zM255 207h1v1h-1zM134 207h3v1h-3zM138 207h5v1h-5zM522 207h7v1h-7zM533 207h11v1h-11zM153 207h33v1h-33zM187 207h31v1h-31zM226 207h2v1h-2zM358 207h1v1h-1zM341 207h11v1h-11zM229 207h13v1h-13zM545 207h3v1h-3zM498 207h2v1h-2zM493 207h2v1h-2zM513 207h3v1h-3zM281 207h10v1h-10zM127 207h2v1h-2zM123 207h2v1h-2zM252 207h2v1h-2zM250 207h1v1h-1zM130 207h1v2h-1zM120 208h9v1h-9zM223 208h19v1h-19zM134 208h12v1h-12zM191 208h7v1h-7zM265 208h7v1h-7zM514 208h2v1h-2zM520 208h12v1h-12zM501 208h8v1h-8zM342 208h9v1h-9zM260 208h3v1h-3zM536 208h12v1h-12zM159 208h24v1h-24zM308 208h7v1h-7zM184 208h1v1h-1zM249 208h7v1h-7zM511 208h1v1h-1zM355 208h7v1h-7zM187 208h2v1h-2zM199 208h22v1h-22zM156 208h2v2h-2zM282 208h10v2h-10zM184 209h36v1h-36zM252 209h1v1h-1zM344 209h10v1h-10zM177 209h6v1h-6zM120 209h23v1h-23zM511 209h8v1h-8zM226 209h17v1h-17zM264 209h11v1h-11zM533 209h1v1h-1zM521 209h8v1h-8zM556 209h1v1h-1zM254 209h1v1h-1zM535 209h14v1h-14zM159 209h17v1h-17zM259 209h4v1h-4zM250 209h1v1h-1zM358 209h1v2h-1zM501 209h1v2h-1zM504 209h2v2h-2zM154 210h22v1h-22zM554 210h4v1h-4zM559 210h1v1h-1zM177 210h12v1h-12zM226 210h14v1h-14zM271 210h1v1h-1zM264 210h5v1h-5zM282 210h11v1h-11zM252 210h3v1h-3zM533 210h13v1h-13zM134 210h10v1h-10zM511 210h7v1h-7zM130 210h1v1h-1zM121 210h7v1h-7zM261 210h2v1h-2zM191 210h29v1h-29zM343 210h8v1h-8zM523 210h4v2h-4zM528 210h1v2h-1zM259 210h1v2h-1zM281 211h12v1h-12zM156 211h29v1h-29zM251 211h7v1h-7zM127 211h19v1h-19zM261 211h1v1h-1zM342 211h9v1h-9zM187 211h31v1h-31zM123 211h3v1h-3zM264 211h11v1h-11zM498 211h8v1h-8zM533 211h16v1h-16zM508 211h8v1h-8zM226 211h16v1h-16zM355 211h7v1h-7zM311 209h1v4h-1zM553 211h8v2h-8zM142 212h2v1h-2zM122 212h9v1h-9zM253 212h19v1h-19zM513 212h3v1h-3zM524 212h25v1h-25zM511 212h1v1h-1zM350 212h1v1h-1zM134 212h1v1h-1zM140 212h1v1h-1zM157 212h61v1h-61zM225 212h15v1h-15zM340 211h1v3h-1zM283 212h12v2h-12zM358 212h1v2h-1zM138 212h1v2h-1zM532 213h8v1h-8zM541 213h7v1h-7zM523 213h7v1h-7zM157 213h26v1h-26zM269 213h3v1h-3zM250 213h18v1h-18zM308 213h7v1h-7zM510 213h7v1h-7zM228 213h11v1h-11zM184 213h37v1h-37zM121 213h13v1h-13zM140 213h7v1h-7zM551 213h12v1h-12zM136 212h1v3h-1zM345 212h2v3h-2zM330 212h1v3h-1zM501 212h1v3h-1zM505 213h1v2h-1zM157 214h51v1h-51zM238 214h1v1h-1zM209 214h12v1h-12zM228 214h9v1h-9zM122 214h11v1h-11zM253 214h19v1h-19zM511 214h4v1h-4zM337 214h7v1h-7zM355 214h7v1h-7zM525 214h4v1h-4zM140 214h1v1h-1zM280 214h15v1h-15zM550 214h14v1h-14zM244 213h1v3h-1zM543 214h3v2h-3zM535 214h7v2h-7zM533 214h1v2h-1zM124 215h2v1h-2zM127 215h1v1h-1zM522 215h10v1h-10zM283 215h12v1h-12zM129 215h4v1h-4zM498 215h8v1h-8zM327 215h7v1h-7zM251 215h21v1h-21zM156 215h9v1h-9zM166 215h55v1h-55zM225 215h15v1h-15zM296 215h1v1h-1zM551 215h12v1h-12zM142 214h2v3h-2zM311 214h1v3h-1zM512 215h3v2h-3zM358 215h1v2h-1zM339 215h2v2h-2zM266 216h2v1h-2zM228 216h10v1h-10zM522 216h1v1h-1zM172 216h49v1h-49zM124 216h11v1h-11zM501 216h8v1h-8zM157 216h14v1h-14zM257 216h1v1h-1zM261 216h3v1h-3zM281 216h16v1h-16zM535 216h14v1h-14zM524 216h6v1h-6zM253 216h3v1h-3zM270 216h2v1h-2zM550 216h14v1h-14zM241 216h7v2h-7zM124 217h9v1h-9zM509 217h9v1h-9zM522 217h9v1h-9zM283 217h14v1h-14zM501 217h1v1h-1zM225 217h13v1h-13zM534 217h13v1h-13zM552 217h11v1h-11zM179 217h39v1h-39zM250 217h25v1h-25zM355 217h7v1h-7zM504 217h2v1h-2zM166 217h12v1h-12zM159 217h6v1h-6zM139 217h7v1h-7zM330 216h1v3h-1zM336 217h8v2h-8zM179 218h11v1h-11zM252 218h16v1h-16zM284 218h16v1h-16zM225 218h10v1h-10zM159 218h18v1h-18zM501 218h7v1h-7zM122 218h14v1h-14zM191 218h27v1h-27zM519 218h12v1h-12zM236 218h1v1h-1zM512 218h1v1h-1zM545 218h1v2h-1zM244 218h1v2h-1zM551 218h13v2h-13zM539 218h2v2h-2zM241 218h1v2h-1zM284 219h14v1h-14zM123 219h13v1h-13zM215 219h1v1h-1zM227 219h9v1h-9zM157 219h14v1h-14zM521 219h12v1h-12zM179 219h35v1h-35zM177 219h1v1h-1zM502 219h4v1h-4zM217 219h1v1h-1zM337 219h7v1h-7zM172 219h4v1h-4zM358 218h1v3h-1zM142 218h1v3h-1zM537 218h1v3h-1zM514 218h1v3h-1zM543 218h1v3h-1zM270 218h2v3h-2zM266 219h2v2h-2zM262 219h2v2h-2zM511 219h2v2h-2zM252 219h3v2h-3zM540 220h1v1h-1zM502 220h3v1h-3zM208 220h9v1h-9zM204 220h3v1h-3zM131 220h3v1h-3zM238 220h7v1h-7zM520 220h11v1h-11zM191 220h12v1h-12zM167 220h23v1h-23zM227 220h8v1h-8zM122 220h8v1h-8zM282 220h17v1h-17zM162 220h4v1h-4zM550 220h14v1h-14zM260 219h1v3h-1zM257 219h1v3h-1zM339 220h2v2h-2zM284 221h14v1h-14zM182 221h16v1h-16zM179 221h2v1h-2zM199 221h15v1h-15zM227 221h6v1h-6zM270 221h1v1h-1zM500 221h7v1h-7zM124 221h13v1h-13zM234 221h1v1h-1zM520 221h14v1h-14zM551 221h13v1h-13zM249 221h7v1h-7zM511 221h1v1h-1zM162 221h16v1h-16zM263 221h1v1h-1zM160 220h1v3h-1zM540 222h1v1h-1zM508 222h7v1h-7zM550 222h14v1h-14zM499 222h7v1h-7zM163 222h37v1h-37zM257 222h7v1h-7zM518 222h13v1h-13zM123 222h12v1h-12zM289 222h9v1h-9zM224 222h12v1h-12zM285 222h3v1h-3zM267 222h7v1h-7zM337 222h7v1h-7zM544 222h1v1h-1zM324 221h1v3h-1zM330 221h1v3h-1zM241 221h1v3h-1zM202 222h12v2h-12zM252 222h2v2h-2zM162 223h9v1h-9zM260 223h1v1h-1zM502 223h3v1h-3zM124 223h8v1h-8zM538 223h27v1h-27zM225 223h11v1h-11zM133 223h1v1h-1zM526 223h3v1h-3zM285 223h16v1h-16zM530 223h2v1h-2zM517 223h8v1h-8zM173 223h26v1h-26zM316 222h1v3h-1zM267 223h1v2h-1zM270 223h2v2h-2zM286 224h7v1h-7zM519 224h13v1h-13zM257 224h1v1h-1zM226 224h12v1h-12zM501 224h7v1h-7zM165 224h50v1h-50zM296 224h2v1h-2zM125 224h12v1h-12zM321 224h13v1h-13zM294 224h1v1h-1zM249 224h7v1h-7zM538 224h26v1h-26zM340 223h1v3h-1zM259 224h2v2h-2zM518 225h11v1h-11zM531 225h1v1h-1zM499 225h7v1h-7zM173 225h43v1h-43zM165 225h1v1h-1zM294 225h4v1h-4zM125 225h5v1h-5zM225 225h10v1h-10zM313 225h7v1h-7zM267 225h7v1h-7zM284 225h9v1h-9zM167 225h4v1h-4zM131 225h1v1h-1zM330 225h1v2h-1zM537 225h28v2h-28zM250 225h8v2h-8zM200 226h1v1h-1zM194 226h3v1h-3zM211 226h2v1h-2zM202 226h8v1h-8zM316 226h1v1h-1zM179 226h14v1h-14zM287 226h6v1h-6zM174 226h1v1h-1zM165 226h7v1h-7zM176 226h2v1h-2zM294 226h7v1h-7zM519 226h16v1h-16zM198 226h1v1h-1zM122 226h8v1h-8zM501 226h7v1h-7zM231 226h7v1h-7zM228 226h2v1h-2zM259 226h1v1h-1zM264 226h10v1h-10zM324 225h1v3h-1zM537 227h29v1h-29zM164 227h37v1h-37zM267 227h6v1h-6zM202 227h11v1h-11zM251 227h12v1h-12zM287 227h11v1h-11zM327 227h7v1h-7zM228 227h9v1h-9zM313 227h7v1h-7zM499 227h10v1h-10zM521 227h11v1h-11zM511 223h1v6h-1zM133 225h1v4h-1zM128 227h2v2h-2zM125 227h1v2h-1zM513 227h1v2h-1zM131 227h1v2h-1zM527 228h1v1h-1zM256 228h7v1h-7zM531 228h1v1h-1zM499 228h7v1h-7zM330 228h1v1h-1zM197 228h13v1h-13zM225 228h10v1h-10zM212 228h1v1h-1zM529 228h1v1h-1zM521 228h5v1h-5zM269 228h5v1h-5zM538 228h28v1h-28zM286 228h13v1h-13zM167 228h13v1h-13zM182 228h14v1h-14zM316 228h1v2h-1zM253 228h2v2h-2zM267 228h1v2h-1zM264 228h1v2h-1zM508 229h7v1h-7zM125 229h12v1h-12zM270 229h4v1h-4zM233 229h3v1h-3zM262 229h1v1h-1zM327 229h7v1h-7zM556 229h10v1h-10zM538 229h16v1h-16zM259 229h1v1h-1zM522 229h11v1h-11zM504 229h2v1h-2zM165 229h45v1h-45zM286 229h12v2h-12zM257 229h1v2h-1zM502 229h1v2h-1zM166 230h27v1h-27zM527 230h1v1h-1zM128 230h7v1h-7zM538 230h17v1h-17zM519 230h7v1h-7zM505 230h1v1h-1zM510 230h7v1h-7zM529 230h4v1h-4zM231 230h7v1h-7zM313 230h7v1h-7zM194 230h19v1h-19zM269 230h5v1h-5zM254 230h1v1h-1zM259 230h7v1h-7zM228 229h2v3h-2zM557 230h9v2h-9zM330 230h1v2h-1zM203 231h9v1h-9zM511 231h3v1h-3zM234 231h2v1h-2zM195 231h6v1h-6zM499 231h7v1h-7zM316 231h1v1h-1zM261 231h7v1h-7zM270 231h7v1h-7zM174 231h19v1h-19zM133 231h1v1h-1zM283 231h15v1h-15zM166 231h7v1h-7zM538 231h16v1h-16zM520 231h1v1h-1zM125 231h7v1h-7zM522 231h2v1h-2zM259 231h1v1h-1zM525 231h10v1h-10zM232 231h1v1h-1zM271 232h7v1h-7zM168 232h33v1h-33zM520 232h16v1h-16zM125 232h9v1h-9zM284 232h17v1h-17zM327 232h7v1h-7zM202 232h10v1h-10zM539 232h15v1h-15zM313 232h7v1h-7zM558 232h9v1h-9zM499 232h17v1h-17zM232 232h7v1h-7zM262 232h1v2h-1zM281 232h1v2h-1zM237 233h1v1h-1zM193 233h14v1h-14zM508 233h7v1h-7zM505 233h2v1h-2zM522 233h4v1h-4zM527 233h7v1h-7zM316 233h1v1h-1zM330 233h1v1h-1zM128 233h7v1h-7zM502 233h2v1h-2zM168 233h24v1h-24zM229 233h7v1h-7zM208 233h2v1h-2zM275 233h3v1h-3zM292 233h2v1h-2zM283 233h8v1h-8zM520 233h1v1h-1zM540 233h14v1h-14zM125 233h1v1h-1zM271 233h3v1h-3zM559 233h8v1h-8zM264 232h1v3h-1zM255 232h1v3h-1zM167 234h34v1h-34zM500 234h9v1h-9zM231 234h2v1h-2zM517 234h17v1h-17zM122 234h8v1h-8zM540 234h13v1h-13zM268 234h12v1h-12zM202 234h7v1h-7zM235 234h3v1h-3zM327 234h7v1h-7zM313 234h7v1h-7zM281 234h13v1h-13zM296 233h2v3h-2zM511 234h3v2h-3zM560 234h8v2h-8zM508 235h1v1h-1zM519 235h2v1h-2zM170 235h2v1h-2zM316 235h1v1h-1zM252 235h7v1h-7zM500 235h7v1h-7zM177 235h30v1h-30zM129 235h1v1h-1zM522 235h12v1h-12zM541 235h12v1h-12zM231 235h10v1h-10zM208 235h1v1h-1zM270 235h2v1h-2zM273 235h22v1h-22zM174 235h2v1h-2zM168 235h1v1h-1zM131 234h1v3h-1zM330 235h1v2h-1zM561 236h6v1h-6zM165 236h44v1h-44zM236 236h2v1h-2zM228 236h7v1h-7zM268 236h25v1h-25zM519 236h18v1h-18zM543 236h9v1h-9zM503 236h14v1h-14zM313 236h7v1h-7zM125 235h1v3h-1zM294 236h1v2h-1zM233 237h7v1h-7zM316 237h1v1h-1zM501 237h11v1h-11zM189 237h20v1h-20zM270 237h13v1h-13zM527 237h9v1h-9zM231 237h1v1h-1zM561 237h7v1h-7zM327 237h7v1h-7zM284 237h9v1h-9zM545 237h5v1h-5zM516 237h10v1h-10zM170 237h18v1h-18zM168 237h1v1h-1zM255 236h1v3h-1zM267 238h12v1h-12zM286 238h12v1h-12zM204 238h3v1h-3zM503 238h9v1h-9zM330 238h1v1h-1zM178 238h25v1h-25zM281 238h2v1h-2zM284 238h1v1h-1zM524 238h13v1h-13zM230 238h10v1h-10zM521 238h2v1h-2zM313 238h7v1h-7zM548 238h1v1h-1zM167 238h10v1h-10zM122 238h7v1h-7zM265 237h1v3h-1zM513 237h1v3h-1zM299 237h1v3h-1zM562 238h6v2h-6zM519 238h1v2h-1zM270 239h27v1h-27zM511 239h1v1h-1zM532 239h2v1h-2zM168 239h42v1h-42zM230 239h7v1h-7zM500 239h7v1h-7zM327 239h7v1h-7zM521 239h8v1h-8zM508 239h2v1h-2zM316 239h1v2h-1zM233 240h1v1h-1zM519 240h17v1h-17zM235 240h2v1h-2zM501 240h14v1h-14zM273 240h30v1h-30zM168 240h9v1h-9zM185 240h11v1h-11zM563 240h3v1h-3zM262 240h7v1h-7zM197 240h6v1h-6zM182 240h2v1h-2zM178 240h2v1h-2zM270 240h2v1h-2zM125 239h1v3h-1zM244 239h1v3h-1zM205 240h2v2h-2zM527 241h9v1h-9zM169 241h3v1h-3zM173 241h30v1h-30zM270 241h13v1h-13zM518 241h8v1h-8zM563 241h1v1h-1zM313 241h7v1h-7zM284 241h19v1h-19zM503 241h7v1h-7zM232 241h7v1h-7zM330 240h1v3h-1zM230 240h1v3h-1zM264 241h2v2h-2zM241 242h7v1h-7zM233 242h1v1h-1zM273 242h6v1h-6zM316 242h1v1h-1zM280 242h20v1h-20zM271 242h1v1h-1zM175 242h32v1h-32zM235 242h1v1h-1zM166 242h7v1h-7zM503 242h2v1h-2zM511 241h1v3h-1zM130 241h1v3h-1zM519 242h11v2h-11zM506 242h2v2h-2zM532 242h1v2h-1zM509 242h1v2h-1zM126 242h1v2h-1zM227 243h9v1h-9zM299 243h1v1h-1zM504 243h1v1h-1zM178 243h22v1h-22zM202 243h1v1h-1zM261 243h37v1h-37zM313 243h7v1h-7zM171 243h1v1h-1zM176 243h1v2h-1zM169 243h1v2h-1zM518 244h15v1h-15zM182 244h21v1h-21zM178 244h2v1h-2zM227 244h12v1h-12zM501 244h10v1h-10zM262 244h38v1h-38zM126 244h8v1h-8zM244 243h1v3h-1zM332 244h1v2h-1zM277 245h7v1h-7zM504 245h1v1h-1zM285 245h15v1h-15zM267 245h9v1h-9zM202 245h1v1h-1zM123 245h8v1h-8zM178 245h8v1h-8zM506 245h7v1h-7zM516 245h16v1h-16zM230 245h6v1h-6zM187 245h4v1h-4zM194 245h7v1h-7zM316 244h1v3h-1zM166 245h7v2h-7zM126 246h1v1h-1zM521 246h1v1h-1zM280 246h19v1h-19zM182 246h17v1h-17zM523 246h10v1h-10zM507 246h4v1h-4zM129 246h2v1h-2zM331 246h2v1h-2zM504 246h2v1h-2zM229 246h10v1h-10zM264 245h2v3h-2zM267 246h12v2h-12zM521 247h4v1h-4zM228 247h8v1h-8zM126 247h7v1h-7zM526 247h7v1h-7zM181 247h3v1h-3zM194 247h8v1h-8zM280 247h18v1h-18zM504 247h9v1h-9zM185 247h7v1h-7zM518 246h2v3h-2zM171 247h2v2h-2zM329 247h7v2h-7zM169 247h1v2h-1zM290 248h1v1h-1zM129 248h1v1h-1zM229 248h7v1h-7zM126 248h1v1h-1zM504 248h10v1h-10zM292 248h7v1h-7zM521 248h12v1h-12zM277 248h12v1h-12zM180 248h12v1h-12zM194 248h1v1h-1zM264 248h12v1h-12zM196 248h3v2h-3zM126 249h7v1h-7zM264 249h1v1h-1zM328 249h7v1h-7zM267 249h34v1h-34zM515 249h19v1h-19zM502 249h9v1h-9zM183 249h12v1h-12zM234 249h2v1h-2zM169 249h7v1h-7zM181 249h1v1h-1zM313 248h1v3h-1zM513 249h1v2h-1zM231 249h2v2h-2zM193 250h8v1h-8zM168 250h7v1h-7zM261 250h35v1h-35zM297 250h1v1h-1zM178 250h14v1h-14zM505 250h7v1h-7zM129 250h1v2h-1zM331 250h3v2h-3zM518 250h16v2h-16zM292 251h7v1h-7zM505 251h12v1h-12zM181 251h19v1h-19zM310 251h7v1h-7zM266 251h25v1h-25zM232 251h1v1h-1zM504 252h20v1h-20zM297 252h2v1h-2zM525 252h1v1h-1zM527 252h10v1h-10zM129 252h2v1h-2zM181 252h12v1h-12zM194 252h1v1h-1zM328 252h9v1h-9zM267 252h29v1h-29zM171 251h2v3h-2zM263 251h2v3h-2zM196 252h2v2h-2zM267 253h3v1h-3zM179 253h16v1h-16zM292 253h7v1h-7zM503 253h21v1h-21zM525 253h10v1h-10zM329 253h7v1h-7zM271 253h20v1h-20zM313 252h1v3h-1zM130 253h1v2h-1zM127 254h2v1h-2zM260 254h20v1h-20zM295 254h7v1h-7zM172 254h1v1h-1zM281 254h13v1h-13zM182 254h15v1h-15zM505 254h29v2h-29zM331 254h3v2h-3zM182 255h12v1h-12zM265 255h34v1h-34zM127 255h7v1h-7zM169 255h7v1h-7zM295 256h1v1h-1zM181 256h16v1h-16zM297 256h2v1h-2zM127 256h4v1h-4zM271 256h12v1h-12zM284 256h10v1h-10zM503 256h20v1h-20zM332 256h1v1h-1zM524 256h11v1h-11zM263 255h1v3h-1zM266 256h3v2h-3zM271 257h9v1h-9zM180 257h15v1h-15zM124 257h8v1h-8zM281 257h20v1h-20zM505 257h27v1h-27zM172 256h1v3h-1zM278 258h3v1h-3zM268 258h7v1h-7zM284 258h12v1h-12zM276 258h1v1h-1zM506 258h28v1h-28zM193 258h1v1h-1zM266 258h1v1h-1zM187 258h5v1h-5zM127 258h4v1h-4zM282 258h1v1h-1zM297 258h1v1h-1zM314 257h1v3h-1zM183 258h3v2h-3zM124 259h9v1h-9zM187 259h7v1h-7zM515 259h14v1h-14zM275 259h15v1h-15zM263 259h7v1h-7zM530 259h3v1h-3zM506 259h8v1h-8zM291 259h10v1h-10zM530 260h1v1h-1zM532 260h1v1h-1zM508 260h3v1h-3zM273 260h26v1h-26zM189 260h3v1h-3zM311 260h7v1h-7zM515 260h8v1h-8zM183 260h5v1h-5zM524 260h5v1h-5zM271 259h1v3h-1zM125 260h7v2h-7zM512 260h1v2h-1zM518 261h15v1h-15zM181 261h13v1h-13zM509 261h2v1h-2zM285 261h13v1h-13zM515 261h2v1h-2zM275 261h9v1h-9zM266 260h1v3h-1zM184 262h9v1h-9zM509 262h27v1h-27zM275 262h23v1h-23zM124 262h10v1h-10zM314 261h1v3h-1zM272 263h11v1h-11zM127 263h4v1h-4zM515 263h21v1h-21zM182 263h9v1h-9zM284 263h14v2h-14zM512 263h1v2h-1zM184 264h9v1h-9zM515 264h20v1h-20zM274 264h9v1h-9zM125 264h9v1h-9zM311 264h7v1h-7zM183 265h7v1h-7zM275 265h24v1h-24zM512 265h24v1h-24zM124 265h10v1h-10zM514 266h11v1h-11zM185 266h3v1h-3zM126 266h7v1h-7zM526 266h9v1h-9zM273 266h15v1h-15zM289 266h12v1h-12zM314 265h1v3h-1zM189 266h1v2h-1zM524 267h13v1h-13zM127 267h4v1h-4zM274 267h27v1h-27zM519 267h3v2h-3zM186 267h1v2h-1zM515 267h3v2h-3zM289 268h5v1h-5zM529 268h8v1h-8zM276 268h7v1h-7zM127 268h1v1h-1zM129 268h2v1h-2zM284 268h4v1h-4zM299 268h1v2h-1zM295 268h3v2h-3zM525 268h3v2h-3zM129 269h1v1h-1zM290 269h4v1h-4zM276 269h10v1h-10zM513 269h9v1h-9zM530 269h4v2h-4zM523 269h1v2h-1zM290 270h10v1h-10zM515 270h3v1h-3zM277 270h9v1h-9zM525 270h4v1h-4zM520 270h2v1h-2zM275 271h28v1h-28zM536 271h1v1h-1zM520 271h15v1h-15zM512 271h7v1h-7zM278 272h9v1h-9zM289 272h9v1h-9zM515 272h22v1h-22zM299 272h1v2h-1zM276 273h8v1h-8zM514 273h23v1h-23zM285 273h1v1h-1zM290 273h8v1h-8zM515 274h1v1h-1zM517 274h23v1h-23zM278 274h23v1h-23zM517 275h20v1h-20zM277 275h12v1h-12zM297 275h1v1h-1zM292 275h3v1h-3zM314 274h1v3h-1zM312 275h1v2h-1zM275 276h9v1h-9zM285 276h1v1h-1zM516 276h23v1h-23zM289 276h12v1h-12zM280 277h7v1h-7zM517 277h20v1h-20zM311 277h7v1h-7zM290 277h8v1h-8zM519 278h19v1h-19zM309 278h7v1h-7zM285 278h1v1h-1zM292 278h9v1h-9zM280 278h1v1h-1zM278 277h1v3h-1zM518 279h15v1h-15zM297 279h1v1h-1zM292 279h3v1h-3zM534 279h2v1h-2zM283 278h1v3h-1zM314 279h1v2h-1zM519 280h19v1h-19zM293 280h8v1h-8zM312 279h1v3h-1zM521 281h14v1h-14zM290 281h8v1h-8zM280 280h1v3h-1zM532 282h5v1h-5zM291 282h10v1h-10zM530 282h1v1h-1zM519 282h10v1h-10zM277 283h7v1h-7zM296 283h2v1h-2zM293 283h2v1h-2zM527 283h10v1h-10zM522 283h4v1h-4zM522 284h12v1h-12zM293 284h8v1h-8zM535 284h2v1h-2zM294 285h4v1h-4zM520 285h20v1h-20zM280 284h1v3h-1zM293 286h8v1h-8zM532 286h7v1h-7zM520 286h11v1h-11zM523 287h10v1h-10zM292 287h7v1h-7zM534 287h3v2h-3zM294 288h7v1h-7zM522 288h11v1h-11zM525 289h11v1h-11zM295 289h3v1h-3zM523 289h1v1h-1zM294 290h7v1h-7zM525 290h13v1h-13zM297 291h1v1h-1zM525 291h10v1h-10zM313 290h1v3h-1zM532 292h1v1h-1zM294 292h7v1h-7zM528 292h1v1h-1zM530 292h1v1h-1zM297 293h1v1h-1zM525 293h7v1h-7zM310 293h7v1h-7zM294 294h7v1h-7zM534 292h1v4h-1zM536 293h1v3h-1zM528 294h3v2h-3zM297 295h2v1h-2zM294 296h7v1h-7zM527 296h13v1h-13zM526 297h12v1h-12zM297 297h2v1h-2zM313 294h1v5h-1zM295 298h7v1h-7zM536 298h1v2h-1zM297 299h2v1h-2zM310 299h7v1h-7zM529 298h2v3h-2zM534 298h1v3h-1zM295 300h7v1h-7zM530 301h1v1h-1zM298 301h1v2h-1zM527 302h7v1h-7zM295 303h7v1h-7zM313 300h1v5h-1zM298 304h1v1h-1zM295 305h7v1h-7zM310 305h7v1h-7zM530 303h1v5h-1zM298 306h1v2h-1zM313 306h1v3h-1zM536 306h1v3h-1zM295 308h7v1h-7zM527 308h7v1h-7zM533 309h7v1h-7zM298 309h1v1h-1zM295 310h7v1h-7zM313 310h1v3h-1zM536 310h1v3h-1zM298 311h1v2h-1zM530 309h1v5h-1zM295 313h7v1h-7zM310 313h7v1h-7zM298 314h1v1h-1zM527 314h7v1h-7zM295 315h7v1h-7zM313 314h1v3h-1zM298 316h1v2h-1zM295 318h7v1h-7zM530 315h1v5h-1zM298 319h1v1h-1zM295 320h7v1h-7zM527 320h7v1h-7zM536 322h1v1h-1zM530 321h1v3h-1zM298 321h1v3h-1zM536 323h2v1h-2zM535 324h3v1h-3zM533 325h7v1h-7zM534 326h7v1h-7zM532 327h7v1h-7zM530 326h1v3h-1zM535 328h3v1h-3zM524 327h1v3h-1zM537 329h1v1h-1zM527 329h7v1h-7zM535 329h1v2h-1zM521 330h7v1h-7zM524 331h1v1h-1zM530 330h1v3h-1zM524 332h2v2h-2zM525 334h1v1h-1zM522 335h7v1h-7zM525 336h1v2h-1zM530 336h1v3h-1zM524 338h2v1h-2zM524 339h10v1h-10zM524 340h3v1h-3zM530 340h1v2h-1zM521 341h8v1h-8zM522 342h9v1h-9zM524 343h3v2h-3zM530 343h1v3h-1zM525 345h2v1h-2zM527 346h7v1h-7zM526 347h8v1h-8zM526 348h1v2h-1zM530 348h1v2h-1zM523 350h8v1h-8zM523 351h7v1h-7zM529 354h1v1h-1zM526 352h1v4h-1zM529 355h2v1h-2zM523 356h8v1h-8zM523 357h10v1h-10zM526 358h8v1h-8zM529 359h2v2h-2zM526 359h1v4h-1zM530 361h1v2h-1zM526 363h8v1h-8zM523 364h8v1h-8zM530 365h1v2h-1zM526 365h1v3h-1zM529 368h1v3h-1zM526 371h7v1h-7zM526 372h1v2h-1zM529 372h1v2h-1zM523 374h7v1h-7zM526 375h1v3h-1zM529 377h1v3h-1zM527 378h1v2h-1zM526 380h7v1h-7zM524 381h7v1h-7zM529 382h1v1h-1zM529 383h2v1h-2zM527 382h1v3h-1zM530 384h1v2h-1zM527 386h7v1h-7zM528 387h1v3h-1zM530 387h1v3h-1zM525 390h7v1h-7zM528 391h1v1h-1zM525 392h7v1h-7zM528 393h1v3h-1zM528 397h1v2h-1zM527 399h2v1h-2zM525 400h7v1h-7zM527 401h2v1h-2zM524 402h7v1h-7zM525 403h7v1h-7zM527 404h2v2h-2zM525 406h7v1h-7zM528 407h1v1h-1zM525 408h7v1h-7zM528 409h1v2h-1zM525 411h7v1h-7zM528 412h1v3h-1z"/>
<rect x="74.5" y="57.5" width="535" height="362" fill="none" stroke="#000" stroke-width="1" shape-rendering="crispEdges"/>
<g opacity="0.92">
<text transform="translate(74.2,442.8) scale(1,0.95)" text-anchor="middle">0</text>
<text transform="translate(181.2,442.8) scale(1,0.95)" text-anchor="middle">5</text>
<text transform="translate(288.2,442.8) scale(1,0.95)" text-anchor="middle">10</text>
<text transform="translate(395.2,442.8) scale(1,0.95)" text-anchor="middle">15</text>
<text transform="translate(502.2,442.8) scale(1,0.95)" text-anchor="middle">20</text>
<text transform="translate(609.2,442.8) scale(1,0.95)" text-anchor="middle">25</text>
<text transform="translate(61.4,62.4) scale(1,0.95)" text-anchor="end">6</text>
<text transform="translate(61.4,107.4) scale(1,0.95)" text-anchor="end">4</text>
<text transform="translate(61.4,152.4) scale(1,0.95)" text-anchor="end">2</text>
<text transform="translate(61.4,198.4) scale(1,0.95)" text-anchor="end">0</text>
<text transform="translate(61.4,243.4) scale(1,0.95)" text-anchor="end">-2</text>
<text transform="translate(61.4,288.4) scale(1,0.95)" text-anchor="end">-4</text>
<text transform="translate(61.4,333.4) scale(1,0.95)" text-anchor="end">-6</text>
<text transform="translate(61.4,379.4) scale(1,0.95)" text-anchor="end">-8</text>
<text transform="translate(61.4,424.4) scale(1,0.95)" text-anchor="end">-10</text>
<text transform="translate(338.3,33) scale(1,0.95)" text-anchor="middle" style="font-size:16.08px">Day 222 of 2022, Sidereal Day-to-day VTEC variation (SDTVAR) for receiver chur</text>
<text transform="translate(339.3,470.8) scale(1,0.95)" text-anchor="middle">GPS time / hours</text>
<text transform="translate(18.6,239.3) rotate(-90) scale(1,0.95)" text-anchor="middle">SDTVAR / TECUs</text>
</g>
</svg>
</body></html>
